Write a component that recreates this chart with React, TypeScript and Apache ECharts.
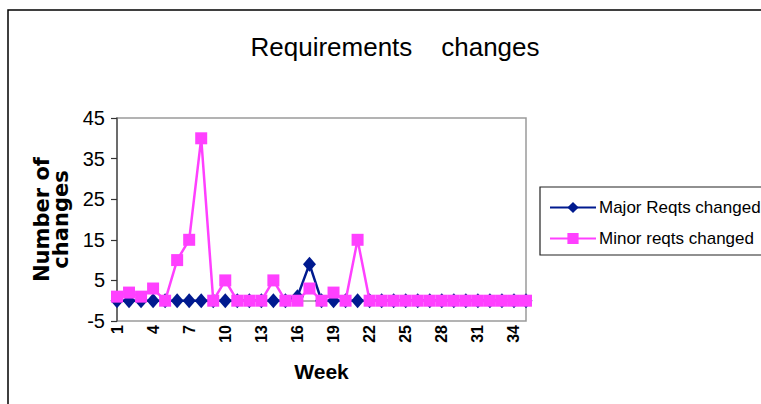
import React, { useEffect, useRef } from "react";
import * as echarts from "echarts";

// Weekly counts of requirement changes
const weeks: string[] = Array.from({ length: 35 }, (_, i) => String(i + 1));
const majorChanged: number[] = [
  0, 0, 0, 0, 0, 0, 0, 0, 0, 0, 0, 0, 0, 0, 0, 1, 9, 0, 0, 0,
  0, 0, 0, 0, 0, 0, 0, 0, 0, 0, 0, 0, 0, 0, 0,
];
const minorChanged: number[] = [
  1, 2, 1, 3, 0, 10, 15, 40, 0, 5, 0, 0, 0, 5, 0, 0, 3, 0, 2, 0,
  15, 0, 0, 0, 0, 0, 0, 0, 0, 0, 0, 0, 0, 0, 0,
];
const yTicks: number[] = [-5, 5, 15, 25, 35, 45];

const SANS = "'Liberation Sans', Arial, sans-serif";

export default function App() {
  const ref = useRef<HTMLDivElement>(null);

  useEffect(() => {
    if (!ref.current) return;
    const chart = echarts.init(ref.current, null, { renderer: "svg" });
    chart.setOption({
      animation: false,
      backgroundColor: "#ffffff",
      title: {
        text: "Requirements    changes",
        left: 390,
        top: 29,
        textAlign: "center",
        textStyle: {
          fontFamily: SANS,
          fontSize: 26,
          fontWeight: "normal",
          color: "#000",
        },
      },
      graphic: [
        {
          type: "rect",
          shape: { x: 8, y: 10, width: 800, height: 500 },
          style: { fill: "none", stroke: "#000", lineWidth: 1.5 },
          silent: true,
        },
        {
          type: "rect",
          shape: { x: 117, y: 118, width: 409, height: 203 },
          style: { fill: "none", stroke: "#9a9a9a", lineWidth: 1.5 },
          silent: true,
          z: -1,
        },
        {
          type: "rect",
          shape: { x: 540, y: 187, width: 260, height: 68 },
          style: { fill: "#fff", stroke: "#222", lineWidth: 1.2 },
          silent: true,
          z: 0,
        },
      ],
      legend: {
        orient: "vertical",
        left: 544,
        top: 194,
        itemWidth: 46,
        itemHeight: 14,
        itemGap: 14,
        z: 10,
        textStyle: {
          fontFamily: SANS,
          fontSize: 17,
          color: "#000",
          padding: [0, 0, 0, -2],
        },
        data: ["Major Reqts changed", "Minor reqts changed"],
      },
      grid: { left: 117, right: 235, top: 118, bottom: 83, containLabel: false },
      xAxis: {
        type: "category",
        data: weeks,
        boundaryGap: false,
        name: "Week",
        nameLocation: "middle",
        nameGap: 40,
        nameTextStyle: {
          fontFamily: SANS,
          fontSize: 21,
          fontWeight: "bold",
          color: "#000",
        },
        axisLine: { lineStyle: { color: "#9a9a9a", width: 1.5 } },
        axisTick: { show: true, interval: 2, length: 4, lineStyle: { color: "#555" } },
        axisLabel: {
          interval: 2,
          rotate: 90,
          margin: 4,
          fontFamily: SANS,
          fontSize: 16,
          fontWeight: "bold",
          color: "#000",
        },
        splitLine: { show: false },
      },
      yAxis: {
        type: "value",
        min: -5,
        max: 45,
        name: "Number of\nchanges",
        nameLocation: "middle",
        nameGap: 46,
        nameRotate: 90,
        nameTextStyle: {
          fontFamily: "'DejaVu Sans', sans-serif",
          fontSize: 21,
          fontWeight: 900,
          lineHeight: 19,
          color: "#000",
        },
        axisLine: { show: true, lineStyle: { color: "#555", width: 1.5 } },
        axisTick: {
          show: true,
          length: 6,
          customValues: yTicks,
          lineStyle: { color: "#333", width: 1.2 },
        },
        axisLabel: {
          customValues: yTicks,
          margin: 12,
          fontFamily: SANS,
          fontSize: 20,
          color: "#000",
        },
        splitLine: { show: false },
      },
      series: [
        {
          name: "Major Reqts changed",
          type: "line",
          data: majorChanged,
          symbol: "diamond",
          symbolSize: [13, 15],
          showAllSymbol: true,
          color: "#001a8f",
          lineStyle: { width: 2.5, color: "#001a8f" },
          itemStyle: { color: "#001a8f" },
          z: 2,
        },
        {
          name: "Minor reqts changed",
          type: "line",
          data: minorChanged,
          symbol: "rect",
          symbolSize: 12,
          showAllSymbol: true,
          color: "#ff40ff",
          lineStyle: { width: 2.5, color: "#ff40ff" },
          itemStyle: { color: "#ff40ff" },
          z: 3,
        },
      ],
    });
    return () => chart.dispose();
  }, []);

  return (
    <div
      ref={ref}
      style={{ position: "fixed", left: 0, top: 0, width: 761, height: 404 }}
    />
  );
}
